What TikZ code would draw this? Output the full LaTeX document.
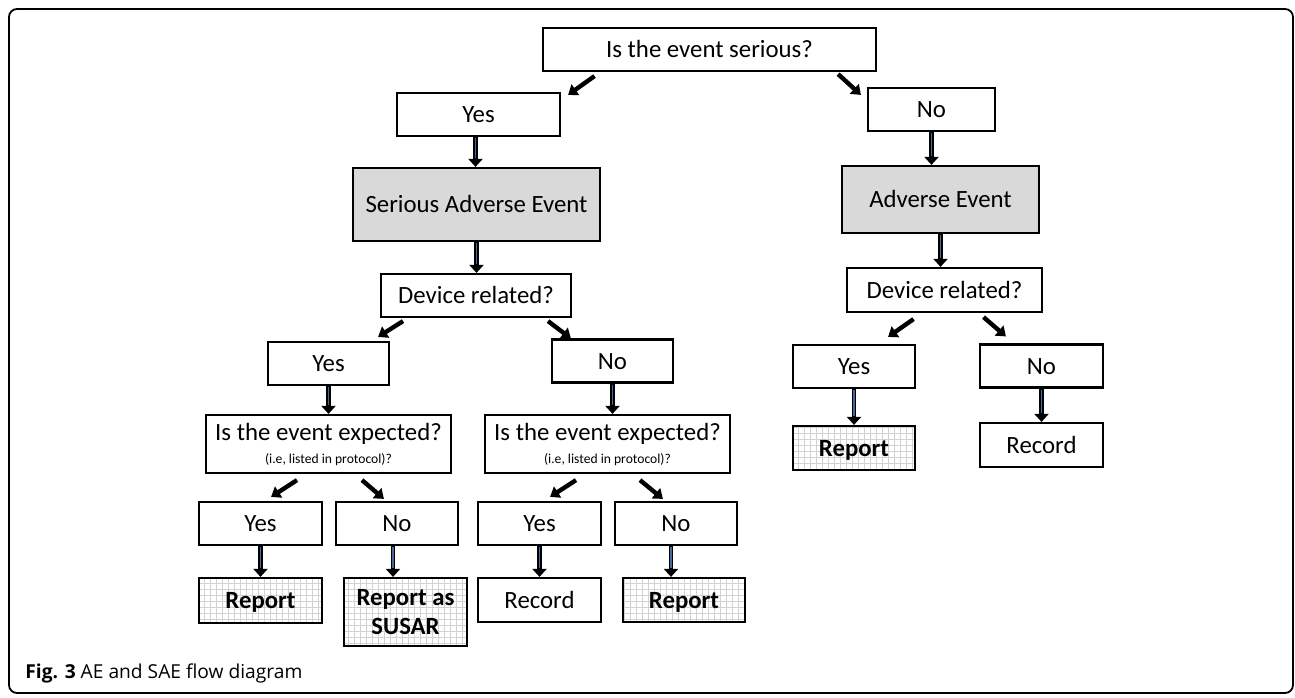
\documentclass[tikz,border=0pt]{standalone}
\usepackage{fontspec}
\setmainfont{Carlito}
\newfontfamily\capfont{Open Sans}
\usetikzlibrary{arrows.meta,patterns}
\definecolor{eventgray}{RGB}{217,217,217}
\definecolor{arrowblue}{RGB}{68,104,160}

\begin{document}
\begin{tikzpicture}[x=0.5pt, y=-0.5pt,
        box/.style={draw, line width=1.1pt, minimum height=21.5pt, inner sep=1pt, align=center,
            text height=8.1pt, text depth=0.1pt, font=\fontsize{12.4}{14.5}\selectfont},
        event/.style={box, fill=eventgray},
        result/.style={box, pattern=grid, pattern color=gray!35, font=\fontsize{12.4}{14.5}\selectfont\bfseries},
        twoline/.style={text height=, text depth=},
        vdown/.style={draw=black, line width=2.4pt, -{Triangle[width=7pt,length=4pt]},
            postaction={draw=arrowblue, line width=0.9pt, -, shorten >=4.5pt, shorten <=0.6pt}},
        diagarr/.style={line width=2.2pt, -{Triangle[width=6.5pt,length=4.5pt]}}
    ]
        \useasboundingbox (0,0) rectangle (1295,697);
        \draw [line width=0.9pt, rounded corners=4pt] (9,9) rectangle (1293,693);

        % top question
        \node [box, minimum width=166.5pt] (serious) at (709.5,49.5) {Is the event serious?};
        \node [box, minimum width=81.5pt] (yes1) at (478.5,114.5) {Yes};
        \node [box, minimum width=63.5pt] (no1) at (931.5,109.5) {No};

        % serious branch
        \node [event, minimum width=123.5pt, minimum height=36.5pt] (sae) at (476.5,204.5) {Serious Adverse Event};
        \node [box, minimum width=95pt] (dev1) at (476,295.5) {Device related?};
        \node [box, minimum width=60.5pt] (yes2) at (328.5,363.5) {Yes};
        \node [box, minimum width=60.5pt] (no2) at (612.5,361) {No};
        \node [box, twoline, minimum width=122.5pt, minimum height=29pt] (exp1) at (328.5,444)
            {Is the event expected?\\[-3pt]{\fontsize{6.8}{8}\selectfont (i.e, listed in protocol)?}};
        \node [box, twoline, minimum width=122.5pt, minimum height=29pt] (exp2) at (607.5,444)
            {Is the event expected?\\[-3pt]{\fontsize{6.8}{8}\selectfont (i.e, listed in protocol)?}};
        \node [box, minimum width=61.5pt] (yes3) at (260.5,523.5) {Yes};
        \node [box, minimum width=61pt] (no3) at (397,523.5) {No};
        \node [box, minimum width=61.5pt] (yes4) at (539.5,523.5) {Yes};
        \node [box, minimum width=61pt] (no4) at (676,523.5) {No};
        \node [result, minimum width=61.5pt, minimum height=22.5pt] (rep1) at (260.5,600.5) {Report};
        \node [result, twoline, minimum width=61.5pt, minimum height=34pt] (susar) at (405.5,612) {Report as\\SUSAR};
        \node [box, minimum width=61.5pt, minimum height=22pt] (rec1) at (539.5,600) {Record};
        \node [result, minimum width=61pt, minimum height=22pt] (rep2) at (684,600) {Report};

        % non serious branch
        \node [event, minimum width=98.5pt, minimum height=33.5pt] (ae) at (940.5,199.5) {Adverse Event};
        \node [box, minimum width=97.5pt, minimum height=22pt] (dev2) at (944.5,290) {Device related?};
        \node [box, minimum width=61pt] (yes5) at (854,366.5) {Yes};
        \node [box, minimum width=61.5pt] (no5) at (1041.5,366) {No};
        \node [result, minimum width=61pt, minimum height=22pt] (rep3) at (854,448) {Report};
        \node [box, minimum width=61.5pt, minimum height=22pt] (rec2) at (1041.5,445) {Record};

        \node [anchor=west, inner sep=0pt, font=\capfont\fontsize{9.6}{11}\selectfont] (caption) at (25,673)
            {\textbf{Fig. 3} AE and SAE flow diagram};

        % slanted arrows
        \draw [diagarr] ([shift={(-115,4)}]serious.south) -- ([shift={(7,3)}]yes1.north east);
        \draw [diagarr] ([shift={(-39,2)}]serious.south east) -- ([shift={(-6,8)}]no1.north west);
        \draw [diagarr] ([shift={(-73,3)}]dev1.south) -- ([shift={(-12,-4)}]yes2.north east);
        \draw [diagarr] ([shift={(72,3)}]dev1.south) -- ([shift={(20,0)}]no2.north west);
        \draw [diagarr] ([shift={(-31.5,6)}]exp1.south) -- ([shift={(-52,-4)}]yes3.north east);
        \draw [diagarr] ([shift={(33.5,6)}]exp1.south) -- ([shift={(49,-2)}]no3.north west);
        \draw [diagarr] ([shift={(-31.5,6)}]exp2.south) -- ([shift={(-52,-4)}]yes4.north east);
        \draw [diagarr] ([shift={(32.5,6)}]exp2.south) -- ([shift={(49,-2)}]no4.north west);
        \draw [diagarr] ([shift={(-31,6)}]dev2.south) -- ([shift={(-28,-7)}]yes5.north east);
        \draw [diagarr] ([shift={(39,4)}]dev2.south) -- ([shift={(27,-7)}]no5.north west);

        % straight down arrows
        \draw [vdown] ([xshift=-1.5pt]yes1.south) -- ([xshift=-1.5pt]yes1.south |- sae.north);
        \draw [vdown] (sae.south) -- (sae.south |- dev1.north);
        \draw [vdown] (yes2.south) -- (yes2.south |- exp1.north);
        \draw [vdown] (no2.south) -- (no2.south |- exp2.north);
        \draw [vdown] (yes3.south) -- (yes3.south |- rep1.north);
        \draw [vdown] ([xshift=-2pt]no3.south) -- ([xshift=-2pt]no3.south |- susar.north);
        \draw [vdown] (yes4.south) -- (yes4.south |- rec1.north);
        \draw [vdown] ([xshift=-2.5pt]no4.south) -- ([xshift=-2.5pt]no4.south |- rep2.north);
        \draw [vdown] (no1.south) -- (no1.south |- ae.north);
        \draw [vdown] (ae.south) -- (ae.south |- dev2.north);
        \draw [vdown] (yes5.south) -- (yes5.south |- rep3.north);
        \draw [vdown] (no5.south) -- (no5.south |- rec2.north);
    \end{tikzpicture}
\end{document}
